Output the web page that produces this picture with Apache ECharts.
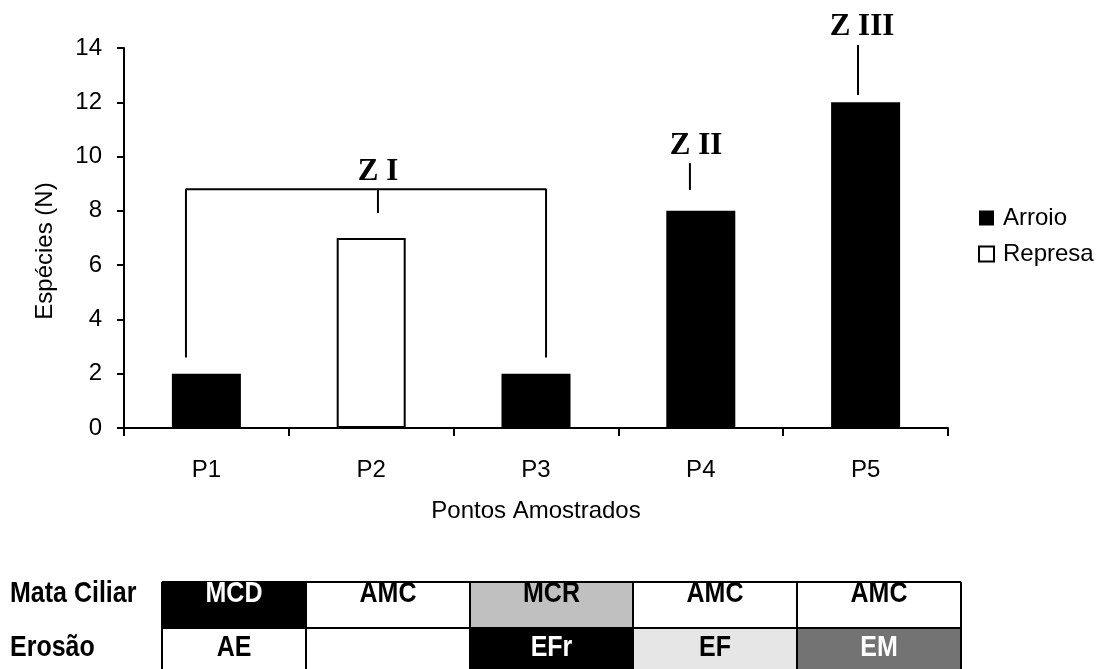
<!DOCTYPE html>
<html>
<head>
<meta charset="utf-8">
<script src="https://cdn.jsdelivr.net/npm/echarts@6/dist/echarts.min.js"></script>
<style>
  html, body { margin: 0; padding: 0; background: #fff; }
  #chart { width: 1097px; height: 669px; }
</style>
</head>
<body>
<div id="chart"></div>
<script>
// Sampling points and species counts
const categories = ['P1', 'P2', 'P3', 'P4', 'P5'];
const arroio = [2, '-', 2, 8, 12];
const represa = ['-', 7, '-', '-', '-'];
const yTicks = { min: 0, max: 14, interval: 2 };

// Zone groupings (bracket over P1-P3, markers over P4 and P5)
const zoneLabels = ['Z I', 'Z II', 'Z III'];
const bracketZI = [[-0.124, 2.6], [-0.124, 8.8], [2.061, 8.8], [2.061, 2.6]];
const stemZI = [[1.041, 8.8], [1.041, 7.92]];
const stemZII = [[2.934, 9.76], [2.934, 8.77]];
const stemZIII = [[3.954, 14.11], [3.954, 12.27]];
const zoneLabelPos = [[1.041, 9.43], [2.971, 10.39], [3.978, 14.78]];

// Site descriptors shown beneath the chart
const tableRowNames = ['Mata Ciliar', 'Erosão'];
const mataCiliar = ['MCD', 'AMC', 'MCR', 'AMC', 'AMC'];
const erosao = ['AE', '', 'EFr', 'EF', 'EM'];

// Cell fill / text colours per code
const cellStyle = {
  MCD: ['#000000', '#ffffff'],
  AMC: ['#ffffff', '#000000'],
  MCR: ['#c0c0c0', '#000000'],
  AE:  ['#ffffff', '#000000'],
  '':  ['#ffffff', '#000000'],
  EFr: ['#000000', '#ffffff'],
  EF:  ['#e6e6e6', '#000000'],
  EM:  ['#737373', '#ffffff']
};

const SANS = '"Liberation Sans", Arial, sans-serif';
const SERIF = '"Liberation Serif", "Times New Roman", serif';

const chart = echarts.init(document.getElementById('chart'), null, { renderer: 'canvas' });

function seg(data) {
  return {
    type: 'line', xAxisIndex: 1, data: data, symbol: 'none', silent: true,
    clip: false, lineStyle: { color: '#000', width: 2 }, z: 5
  };
}

// Table graphics
const colEdges = [162, 306, 470, 633, 797, 961];
const rowEdges = [582, 628, 672];
const rowTextY = [594, 648];
const graphics = [];
function cellText(text, x, y, fill, align) {
  return {
    type: 'text', x: x, y: y, scaleY: 1.15, z: 3,
    style: { text: text, font: 'bold 25px ' + SANS, fill: fill, align: align, verticalAlign: 'middle' }
  };
}
[mataCiliar, erosao].forEach((row, r) => {
  graphics.push(cellText(tableRowNames[r], 10, rowTextY[r], '#000', 'left'));
  row.forEach((code, c) => {
    const st = cellStyle[code];
    graphics.push({
      type: 'rect',
      shape: { x: colEdges[c], y: rowEdges[r], width: colEdges[c + 1] - colEdges[c], height: rowEdges[r + 1] - rowEdges[r] },
      style: { fill: st[0] }, z: 1
    });
    if (code) {
      graphics.push(cellText(code, (colEdges[c] + colEdges[c + 1]) / 2, rowTextY[r], st[1], 'center'));
    }
  });
});
// Table rules
[rowEdges[0], rowEdges[1]].forEach(y => {
  graphics.push({ type: 'line', shape: { x1: colEdges[0], y1: y, x2: colEdges[5], y2: y }, style: { stroke: '#000', lineWidth: 2 }, z: 2 });
});
colEdges.forEach(x => {
  graphics.push({ type: 'line', shape: { x1: x, y1: rowEdges[0], x2: x, y2: rowEdges[2] }, style: { stroke: '#000', lineWidth: 2 }, z: 2 });
});

const option = {
  backgroundColor: '#ffffff',
  animation: false,
  grid: { left: 124, right: 149, top: 48, bottom: 241, containLabel: false },
  legend: {
    orient: 'vertical', left: 978, top: 206, padding: 0,
    itemWidth: 15, itemHeight: 15, itemGap: 12,
    icon: 'rect',
    textStyle: { fontFamily: SANS, fontSize: 24, color: '#000', padding: [0, 0, 0, 4] },
    data: [
      { name: 'Arroio', itemStyle: { color: '#000', borderColor: '#000', borderWidth: 0 } },
      { name: 'Represa', itemStyle: { color: '#fff', borderColor: '#000', borderWidth: 2 } }
    ]
  },
  xAxis: [
    {
      type: 'category', data: categories, boundaryGap: true,
      name: 'Pontos Amostrados', nameLocation: 'middle', nameGap: 71,
      nameTextStyle: { fontFamily: SANS, fontSize: 24, color: '#000' },
      axisLine: { lineStyle: { color: '#000', width: 2 } },
      axisTick: { show: true, alignWithLabel: false, length: 8, lineStyle: { color: '#000', width: 2 } },
      axisLabel: { fontFamily: SANS, fontSize: 24, color: '#000', margin: 30 },
      splitLine: { show: false }
    },
    {
      type: 'value', min: -0.5, max: 4.5, show: false
    }
  ],
  yAxis: {
    type: 'value', min: yTicks.min, max: yTicks.max, interval: yTicks.interval,
    name: 'Espécies (N)', nameLocation: 'middle', nameGap: 67, nameRotate: 90,
    nameTextStyle: { fontFamily: SANS, fontSize: 24, color: '#000', padding: [0, 26, 0, 0] },
    axisLine: { show: true, onZero: false, lineStyle: { color: '#000', width: 2 } },
    axisTick: { show: true, length: 7, lineStyle: { color: '#000', width: 2 } },
    axisLabel: { fontFamily: SANS, fontSize: 24, color: '#000', margin: 22 },
    splitLine: { show: false }
  },
  series: [
    {
      name: 'Arroio', type: 'bar', data: arroio, barWidth: 69, barGap: '-100%',
      itemStyle: { color: '#000', borderColor: '#000', borderWidth: 0 }
    },
    {
      name: 'Represa', type: 'bar', data: represa, barWidth: 69, barGap: '-100%',
      itemStyle: { color: '#fff', borderColor: '#000', borderWidth: 2 }
    },
    seg(bracketZI), seg(stemZI), seg(stemZII), seg(stemZIII),
    {
      type: 'scatter', xAxisIndex: 1, symbolSize: 0, silent: true, clip: false,
      itemStyle: { opacity: 1 },
      data: zoneLabelPos.map((p, i) => ({ value: p, name: zoneLabels[i] })),
      label: {
        show: true, position: 'inside', formatter: p => p.name,
        fontFamily: SERIF, fontWeight: 'bold', fontSize: 31, color: '#000',
        textBorderWidth: 0
      },
      z: 6
    }
  ],
  graphic: graphics
};

chart.setOption(option);
</script>
</body>
</html>
